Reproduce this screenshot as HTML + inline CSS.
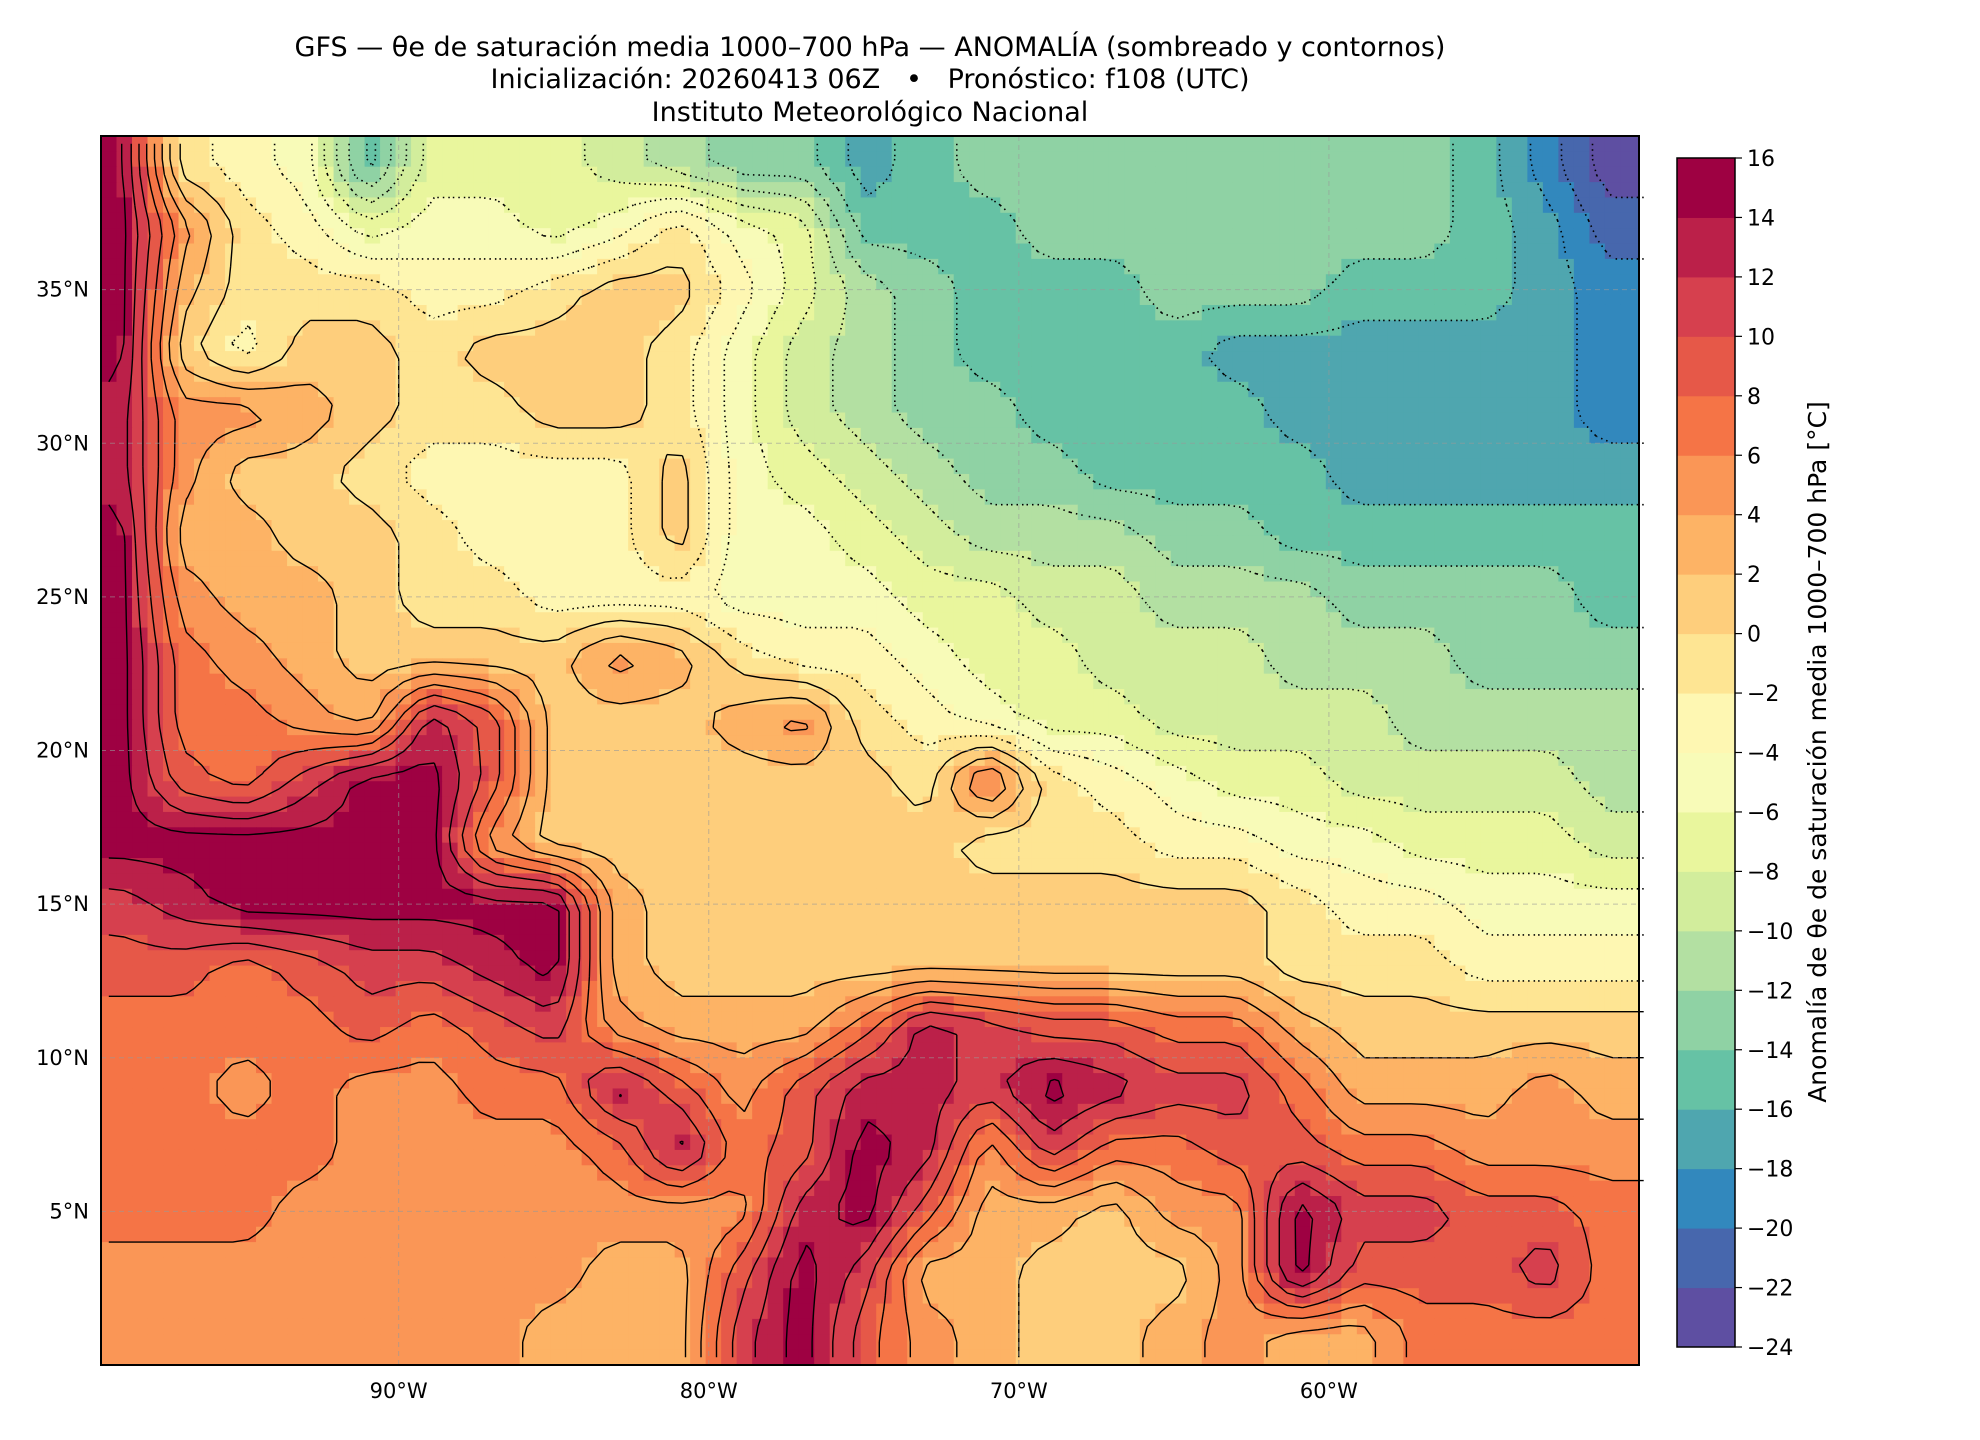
<!DOCTYPE html>
<html><head><meta charset="utf-8">
<style>
html,body{margin:0;padding:0;background:#fff;}
svg{display:block;font-family:"DejaVu Sans","Liberation Sans",sans-serif;}
</style></head>
<body>
<svg id="fig" width="1980" height="1440" viewBox="0 0 1980 1440" xmlns="http://www.w3.org/2000/svg">
<text x="870" y="56" font-size="27" text-anchor="middle">GFS — θe de saturación media 1000–700 hPa — ANOMALÍA (sombreado y contornos)</text>
<text x="870" y="88" font-size="27" text-anchor="middle">Inicialización: 20260413 06Z &#160; • &#160; Pronóstico: f108 (UTC)</text>
<text x="870" y="121" font-size="27" text-anchor="middle">Instituto Meteorológico Nacional</text>
<g id="cells"></g>
<g id="contours"></g>
<g id="grid"></g>
<rect x="101" y="136" width="1538" height="1229" fill="none" stroke="#000" stroke-width="2"/>
<g id="ticks"></g>
<g id="cbar"></g>
<text transform="translate(1826,752) rotate(-90)" font-size="25" text-anchor="middle">Anomalía de θe de saturación media 1000–700 hPa [°C]</text>
</svg>
<script>
const lats = [39,37,35,33,31,29,27,25,23,21,19,17,15,13,11,9,7,5,3,1];
const lons = [-99,-97,-95,-93,-91,-89,-87,-85,-83,-81,-79,-77,-75,-73,-71,-69,-67,-65,-63,-61,-59,-57,-55,-53,-51];
const row39=[15,-1,-3,-5,-15,-7,-7,-7,-9,-11,-13,-13,-17,-15,-13,-13,-13,-13,-13,-13,-13,-13,-15,-19,-23];
const row37=[15,5,-1,-3,-7,-5,-5,-7,-5,-1,-5,-7,-15,-15,-15,-13,-13,-13,-13,-13,-13,-13,-15,-17,-21];
const row35=[15,3,-1,-1,-1,-3,-3,-1,1,1,-3,-7,-11,-13,-15,-15,-15,-13,-13,-13,-15,-15,-15,-17,-19];
const row33=[15,1,-3,1,1,-1,1,1,1,-1,-5,-9,-11,-13,-15,-15,-15,-15,-17,-17,-17,-17,-17,-17,-19];
const row31=[13,5,5,3,1,-1,-1,1,1,-1,-5,-9,-11,-13,-13,-15,-15,-15,-15,-17,-17,-17,-17,-17,-19];
const row29=[13,5,1,1,-1,-3,-3,-3,-3,1,-5,-7,-9,-11,-13,-13,-15,-15,-15,-15,-17,-17,-17,-17,-17];
const row27=[15,3,3,1,1,-1,-3,-3,-3,1,-5,-5,-7,-9,-11,-11,-11,-13,-13,-15,-15,-15,-15,-15,-15];
const row25=[15,5,3,3,1,-1,-1,-3,-3,-3,-5,-5,-5,-7,-7,-9,-9,-11,-11,-11,-13,-13,-13,-13,-15];
const row23=[15,7,5,3,1,1,1,1,5,3,-1,-3,-3,-5,-7,-7,-9,-9,-9,-11,-11,-11,-13,-13,-13];
const row21=[15,7,7,5,3,13,9,1,1,1,3,5,-1,-3,-5,-7,-7,-9,-9,-9,-9,-11,-11,-11,-11];
const row19=[15,9,7,11,15,15,9,1,1,1,1,1,1,-1,7,-1,-3,-5,-7,-7,-9,-9,-9,-9,-11];
const row17=[15,15,15,15,15,15,5,1,1,1,1,1,1,1,-1,-1,-1,-3,-3,-5,-5,-7,-7,-7,-9];
const row15=[11,13,15,15,15,15,15,15,3,1,1,1,1,1,1,1,1,1,1,-1,-3,-3,-5,-5,-5];
const row13=[9,9,7,9,11,11,13,15,3,1,1,1,1,1,1,1,1,1,1,-1,-1,-1,-3,-3,-3];
const row11=[7,7,7,7,9,7,9,11,5,3,3,3,7,13,11,9,9,7,7,3,1,1,1,1,1];
const row9=[7,7,5,7,5,5,7,7,13,9,5,9,13,13,11,15,13,11,11,7,3,3,3,5,3];
const row7=[7,7,7,7,5,5,5,5,7,13,7,9,15,13,5,11,7,7,9,9,7,7,5,5,5];
const row5=[7,7,7,5,5,5,5,5,5,5,5,13,15,9,3,3,1,5,5,15,11,11,9,9,7];
const row3=[5,5,5,5,5,5,5,5,3,3,9,15,11,3,3,1,1,1,5,15,9,9,9,11,7];
const row1=[5,5,5,5,5,5,5,3,3,3,11,15,9,5,3,1,1,3,5,3,3,7,7,7,7];
const values=[row39,row37,row35,row33,row31,row29,row27,row25,row23,row21,row19,row17,row15,row13,row11,row9,row7,row5,row3,row1];
const cbTicks=[16,14,12,10,8,6,4,2,0,-2,-4,-6,-8,-10,-12,-14,-16,-18,-20,-22,-24];
const lonTicks=[-90,-80,-70,-60];
const latTicks=[5,10,15,20,25,30,35];

const NS='http://www.w3.org/2000/svg';
const colors=['#5e4fa2','#4767ad','#3288bd','#4fa6af','#66c2a5','#8fd2a4','#b3e0a2','#d2ed9c','#e9f69d','#f8fbb8','#fef7b2','#fee593','#fece7c','#fdb365','#fa9656','#f57446','#e65848','#d6404e','#bb2049','#9e0142'];
const X0=101,X1=1639,Y0=136,Y1=1365,lonMin=-99.6,lonMax=-50.0,latMin=0,latMax=40;
const xs=lon=>X0+(lon-lonMin)/(lonMax-lonMin)*(X1-X0);
const ys=lat=>Y0+(latMax-lat)/(latMax-latMin)*(Y1-Y0);
function colorOf(v){let i=Math.floor((v+24)/2);i=Math.max(0,Math.min(19,i));return colors[i];}
function mk(tag,attrs,parent){const e=document.createElementNS(NS,tag);for(const k in attrs)e.setAttribute(k,attrs[k]);parent.appendChild(e);return e;}

function field(lon,lat){
  let c=(lon-lons[0])/2, r=(lats[0]-lat)/2;
  c=Math.max(0,Math.min(lons.length-1.0001,c)); r=Math.max(0,Math.min(lats.length-1.0001,r));
  const c0=Math.floor(c),r0=Math.floor(r),fc=c-c0,fr=r-r0;
  const v00=values[r0][c0],v01=values[r0][c0+1],v10=values[r0+1][c0],v11=values[r0+1][c0+1];
  return (v00*(1-fc)+v01*fc)*(1-fr)+(v10*(1-fc)+v11*fc)*fr;
}
const STEP=0.5;
const nC=Math.ceil((lonMax-lonMin)/STEP), nR=Math.ceil((latMax-latMin)/STEP);
const cells=document.getElementById('cells');
const F=[];
for(let j=0;j<nR;j++){F.push([]);for(let i=0;i<nC;i++){
  const lon=lonMin+(i+0.5)*STEP, lat=latMax-(j+0.5)*STEP;
  const v=field(lon,lat); F[j].push(v);
  const xa=xs(lon-STEP/2), xb=Math.min(X1,xs(lon+STEP/2));
  const r=mk('rect',{x:xa,y:ys(lat+STEP/2),width:xb-xa+0.5,height:ys(lat-STEP/2)-ys(lat+STEP/2)+0.5,fill:colorOf(v)},cells);
  
  
}}

const cont=document.getElementById('contours');
const px=i=>xs(lonMin+(i+0.5)*STEP), py=j=>ys(latMax-(j+0.5)*STEP);
for(let lev=-22;lev<=14;lev+=2){
  let d='';
  for(let j=0;j<nR-1;j++)for(let i=0;i<nC-1;i++){
    const a=F[j][i],b=F[j][i+1],c=F[j+1][i+1],e=F[j+1][i];
    const pts=[];
    const edge=(v1,v2,x1,y1,x2,y2)=>{if((v1<lev)!==(v2<lev)){const t=(lev-v1)/(v2-v1);pts.push([x1+(x2-x1)*t,y1+(y2-y1)*t]);}};
    edge(a,b,px(i),py(j),px(i+1),py(j));
    edge(b,c,px(i+1),py(j),px(i+1),py(j+1));
    edge(c,e,px(i+1),py(j+1),px(i),py(j+1));
    edge(e,a,px(i),py(j+1),px(i),py(j));
    for(let k=0;k+1<pts.length;k+=2)d+='M'+pts[k][0].toFixed(1)+' '+pts[k][1].toFixed(1)+'L'+pts[k+1][0].toFixed(1)+' '+pts[k+1][1].toFixed(1);
  }
  if(!d)continue;
  const p=mk('path',{d:d,fill:'none',stroke:'#000',"stroke-width":lev<0?1.6:1.4},cont);
  if(lev<0)p.setAttribute('stroke-dasharray','1.5,4');
  
  
}

const grid=document.getElementById('grid');
const ticks=document.getElementById('ticks');
lonTicks.forEach(l=>{
  const x=xs(l);
  const g=mk('line',{x1:x,x2:x,y1:Y0,y2:Y1,stroke:'#999',"stroke-width":1,"stroke-dasharray":"5,4",opacity:0.6},grid);
  
  
  const t=mk('text',{x:x,y:1398,"font-size":21,"text-anchor":"middle"},ticks);
  t.textContent=Math.abs(l)+'°W';
  
  
});
latTicks.forEach(l=>{
  const y=ys(l);
  const g=mk('line',{x1:X0,x2:X1,y1:y,y2:y,stroke:'#999',"stroke-width":1,"stroke-dasharray":"5,4",opacity:0.6},grid);
  
  
  const t=mk('text',{x:89,y:y+7,"font-size":21,"text-anchor":"end"},ticks);
  t.textContent=l+'°N';
  
  
});

const cb=document.getElementById('cbar');
const CX0=1677,CX1=1735,CY0=158,CY1=1347;
const cy=v=>CY0+(16-v)/40*(CY1-CY0);
for(let i=0;i<20;i++){
  const lo=-24+2*i;
  const r=mk('rect',{x:CX0,y:cy(lo+2),width:CX1-CX0,height:cy(lo)-cy(lo+2)+0.5,fill:colors[i]},cb);
  
  
}
const fr=mk('rect',{x:CX0,y:CY0,width:CX1-CX0,height:CY1-CY0,fill:'none',stroke:'#000',"stroke-width":1.5},cb);


cbTicks.forEach(v=>{
  const y=cy(v);
  const tk=mk('line',{x1:CX1,x2:CX1+7,y1:y,y2:y,stroke:'#000',"stroke-width":1.2},cb);
  
  
  const t=mk('text',{x:CX1+12,y:y+8,"font-size":22},cb);
  t.textContent=(v<0?'−':'')+Math.abs(v);
  
  
});
</script>
</body></html>
